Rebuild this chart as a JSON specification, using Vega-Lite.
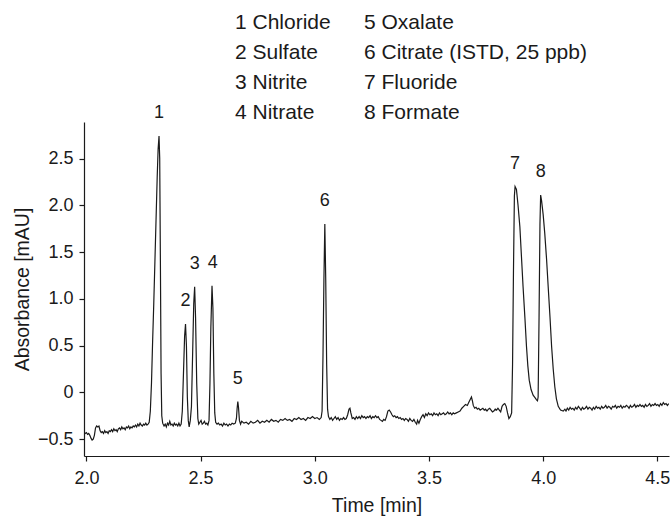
{
  "$schema": "https://vega.github.io/schema/vega-lite/v6.json",
  "width": 585,
  "height": 334,
  "autosize": {"type": "none"},
  "padding": {"left": 84, "top": 122, "right": 1, "bottom": 60},
  "background": "white",
  "config": {
    "view": {"stroke": null},
    "font": "Liberation Sans",
    "axis": {
      "domainColor": "#1a1a1a",
      "tickColor": "#1a1a1a",
      "tickSize": 5,
      "domainWidth": 1.2,
      "tickWidth": 1.2,
      "grid": false,
      "labelFont": "Liberation Sans",
      "labelFontSize": 18,
      "labelColor": "#1a1a1a",
      "titleFont": "Liberation Sans",
      "titleFontSize": 19.5,
      "titleFontWeight": "normal",
      "titleColor": "#1a1a1a"
    }
  },
  "datasets": {
    "trace": [
      {"t":1.990,"a":-0.43},{"t":1.995,"a":-0.44},{"t":2.000,"a":-0.43},{"t":2.005,"a":-0.45},{"t":2.010,"a":-0.44},{"t":2.015,"a":-0.46},{"t":2.020,"a":-0.49},{"t":2.025,"a":-0.51},{"t":2.030,"a":-0.50},{"t":2.035,"a":-0.46},{"t":2.040,"a":-0.38},{"t":2.045,"a":-0.36},{"t":2.050,"a":-0.37},{"t":2.055,"a":-0.36},{"t":2.060,"a":-0.41},{"t":2.065,"a":-0.43},{"t":2.070,"a":-0.42},{"t":2.075,"a":-0.44},{"t":2.080,"a":-0.41},{"t":2.085,"a":-0.43},{"t":2.090,"a":-0.42},{"t":2.095,"a":-0.44},{"t":2.100,"a":-0.41},{"t":2.105,"a":-0.42},{"t":2.110,"a":-0.40},{"t":2.115,"a":-0.42},{"t":2.120,"a":-0.39},{"t":2.125,"a":-0.41},{"t":2.130,"a":-0.40},{"t":2.135,"a":-0.42},{"t":2.140,"a":-0.39},{"t":2.145,"a":-0.38},{"t":2.150,"a":-0.40},{"t":2.155,"a":-0.37},{"t":2.160,"a":-0.39},{"t":2.165,"a":-0.38},{"t":2.170,"a":-0.40},{"t":2.175,"a":-0.37},{"t":2.180,"a":-0.38},{"t":2.185,"a":-0.36},{"t":2.190,"a":-0.39},{"t":2.195,"a":-0.37},{"t":2.200,"a":-0.38},{"t":2.205,"a":-0.36},{"t":2.210,"a":-0.37},{"t":2.215,"a":-0.35},{"t":2.220,"a":-0.37},{"t":2.225,"a":-0.34},{"t":2.230,"a":-0.36},{"t":2.235,"a":-0.33},{"t":2.240,"a":-0.35},{"t":2.245,"a":-0.36},{"t":2.250,"a":-0.34},{"t":2.255,"a":-0.35},{"t":2.260,"a":-0.33},{"t":2.265,"a":-0.35},{"t":2.270,"a":-0.34},
      {"t":2.275,"a":-0.32},{"t":2.280,"a":-0.20},{"t":2.285,"a":0.10},{"t":2.290,"a":0.55},{"t":2.295,"a":0.95},{"t":2.300,"a":1.40},{"t":2.305,"a":1.85},{"t":2.310,"a":2.30},{"t":2.314,"a":2.60},{"t":2.318,"a":2.74},{"t":2.321,"a":2.50},{"t":2.324,"a":1.40},{"t":2.327,"a":0.20},{"t":2.330,"a":-0.25},{"t":2.334,"a":-0.33},{"t":2.340,"a":-0.36},{"t":2.345,"a":-0.34},{"t":2.350,"a":-0.37},{"t":2.355,"a":-0.33},{"t":2.360,"a":-0.35},{"t":2.365,"a":-0.31},{"t":2.370,"a":-0.35},{"t":2.375,"a":-0.34},{"t":2.380,"a":-0.36},{"t":2.385,"a":-0.33},{"t":2.390,"a":-0.35},{"t":2.395,"a":-0.34},{"t":2.400,"a":-0.36},{"t":2.405,"a":-0.33},{"t":2.410,"a":-0.36},
      {"t":2.415,"a":-0.34},{"t":2.420,"a":-0.20},{"t":2.425,"a":0.20},{"t":2.430,"a":0.60},{"t":2.434,"a":0.73},{"t":2.438,"a":0.50},{"t":2.442,"a":-0.05},{"t":2.446,"a":-0.30},{"t":2.450,"a":-0.37},{"t":2.455,"a":-0.30},
      {"t":2.460,"a":-0.15},{"t":2.465,"a":0.40},{"t":2.470,"a":0.95},{"t":2.474,"a":1.13},{"t":2.478,"a":0.80},{"t":2.483,"a":0.10},{"t":2.488,"a":-0.28},{"t":2.492,"a":-0.34},{"t":2.497,"a":-0.32},{"t":2.502,"a":-0.30},{"t":2.507,"a":-0.34},{"t":2.512,"a":-0.33},{"t":2.517,"a":-0.31},{"t":2.522,"a":-0.34},{"t":2.527,"a":-0.33},{"t":2.532,"a":-0.35},
      {"t":2.537,"a":-0.30},{"t":2.541,"a":0.10},{"t":2.545,"a":0.70},{"t":2.550,"a":1.14},{"t":2.554,"a":0.90},{"t":2.558,"a":0.20},{"t":2.562,"a":-0.22},{"t":2.566,"a":-0.32},{"t":2.572,"a":-0.34},{"t":2.578,"a":-0.33},{"t":2.584,"a":-0.35},{"t":2.590,"a":-0.34},{"t":2.596,"a":-0.36},{"t":2.602,"a":-0.33},{"t":2.608,"a":-0.35},{"t":2.614,"a":-0.34},{"t":2.620,"a":-0.36},{"t":2.626,"a":-0.34},{"t":2.632,"a":-0.35},{"t":2.638,"a":-0.33},{"t":2.645,"a":-0.34},{"t":2.652,"a":-0.33},
      {"t":2.657,"a":-0.28},{"t":2.660,"a":-0.17},{"t":2.663,"a":-0.10},{"t":2.666,"a":-0.16},{"t":2.670,"a":-0.30},{"t":2.675,"a":-0.34},{"t":2.680,"a":-0.31},{"t":2.690,"a":-0.33},{"t":2.700,"a":-0.32},{"t":2.710,"a":-0.34},{"t":2.720,"a":-0.31},{"t":2.730,"a":-0.33},{"t":2.740,"a":-0.32},{"t":2.750,"a":-0.30},{"t":2.760,"a":-0.33},{"t":2.770,"a":-0.31},{"t":2.780,"a":-0.32},{"t":2.790,"a":-0.30},{"t":2.800,"a":-0.32},{"t":2.810,"a":-0.29},{"t":2.820,"a":-0.31},{"t":2.830,"a":-0.30},{"t":2.840,"a":-0.32},{"t":2.850,"a":-0.29},{"t":2.860,"a":-0.30},{"t":2.870,"a":-0.28},{"t":2.880,"a":-0.30},{"t":2.890,"a":-0.29},{"t":2.900,"a":-0.31},{"t":2.910,"a":-0.28},{"t":2.920,"a":-0.29},{"t":2.930,"a":-0.27},{"t":2.940,"a":-0.29},{"t":2.950,"a":-0.28},{"t":2.960,"a":-0.30},{"t":2.970,"a":-0.27},{"t":2.980,"a":-0.28},{"t":2.990,"a":-0.26},{"t":3.000,"a":-0.28},{"t":3.010,"a":-0.27},{"t":3.020,"a":-0.29},{"t":3.028,"a":-0.27},
      {"t":3.032,"a":-0.20},{"t":3.036,"a":0.40},{"t":3.040,"a":1.20},{"t":3.044,"a":1.80},{"t":3.048,"a":1.20},{"t":3.052,"a":0.30},{"t":3.056,"a":-0.18},{"t":3.060,"a":-0.26},{"t":3.066,"a":-0.29},{"t":3.072,"a":-0.27},{"t":3.078,"a":-0.30},{"t":3.084,"a":-0.28},{"t":3.090,"a":-0.26},{"t":3.096,"a":-0.29},{"t":3.102,"a":-0.27},{"t":3.108,"a":-0.30},{"t":3.114,"a":-0.28},{"t":3.120,"a":-0.29},{"t":3.126,"a":-0.27},{"t":3.132,"a":-0.29},{"t":3.138,"a":-0.28},{"t":3.144,"a":-0.24},{"t":3.150,"a":-0.18},{"t":3.154,"a":-0.17},{"t":3.158,"a":-0.22},{"t":3.164,"a":-0.28},{"t":3.170,"a":-0.27},{"t":3.176,"a":-0.29},{"t":3.182,"a":-0.26},{"t":3.188,"a":-0.28},{"t":3.194,"a":-0.26},{"t":3.200,"a":-0.28},{"t":3.206,"a":-0.25},{"t":3.212,"a":-0.27},{"t":3.218,"a":-0.26},{"t":3.224,"a":-0.28},{"t":3.230,"a":-0.26},{"t":3.236,"a":-0.27},{"t":3.242,"a":-0.25},{"t":3.248,"a":-0.28},{"t":3.254,"a":-0.26},{"t":3.260,"a":-0.27},{"t":3.266,"a":-0.25},{"t":3.272,"a":-0.27},{"t":3.278,"a":-0.26},{"t":3.284,"a":-0.29},{"t":3.290,"a":-0.30},{"t":3.296,"a":-0.31},{"t":3.302,"a":-0.29},{"t":3.308,"a":-0.30},{"t":3.314,"a":-0.26},{"t":3.320,"a":-0.20},{"t":3.326,"a":-0.19},{"t":3.332,"a":-0.21},{"t":3.338,"a":-0.24},{"t":3.344,"a":-0.26},{"t":3.350,"a":-0.25},{"t":3.356,"a":-0.27},{"t":3.362,"a":-0.26},{"t":3.368,"a":-0.28},{"t":3.374,"a":-0.27},{"t":3.380,"a":-0.29},{"t":3.386,"a":-0.28},{"t":3.392,"a":-0.30},{"t":3.398,"a":-0.28},{"t":3.404,"a":-0.29},{"t":3.410,"a":-0.31},{"t":3.416,"a":-0.28},{"t":3.422,"a":-0.30},{"t":3.428,"a":-0.31},{"t":3.434,"a":-0.29},{"t":3.440,"a":-0.32},{"t":3.446,"a":-0.34},{"t":3.450,"a":-0.30},{"t":3.456,"a":-0.33},{"t":3.462,"a":-0.29},{"t":3.468,"a":-0.26},{"t":3.474,"a":-0.24},{"t":3.480,"a":-0.27},{"t":3.486,"a":-0.23},{"t":3.492,"a":-0.25},{"t":3.498,"a":-0.22},{"t":3.504,"a":-0.24},{"t":3.510,"a":-0.23},{"t":3.516,"a":-0.25},{"t":3.522,"a":-0.22},{"t":3.528,"a":-0.24},{"t":3.534,"a":-0.23},{"t":3.540,"a":-0.25},{"t":3.546,"a":-0.22},{"t":3.552,"a":-0.24},{"t":3.558,"a":-0.23},{"t":3.564,"a":-0.22},{"t":3.570,"a":-0.24},{"t":3.576,"a":-0.23},{"t":3.582,"a":-0.21},{"t":3.588,"a":-0.23},{"t":3.594,"a":-0.22},{"t":3.600,"a":-0.24},{"t":3.606,"a":-0.22},{"t":3.612,"a":-0.23},
      {"t":3.620,"a":-0.22},{"t":3.628,"a":-0.21},{"t":3.636,"a":-0.20},{"t":3.644,"a":-0.17},{"t":3.652,"a":-0.15},{"t":3.660,"a":-0.13},{"t":3.668,"a":-0.14},{"t":3.674,"a":-0.11},{"t":3.680,"a":-0.08},{"t":3.686,"a":-0.05},{"t":3.690,"a":-0.09},{"t":3.694,"a":-0.14},{"t":3.700,"a":-0.17},{"t":3.706,"a":-0.16},{"t":3.712,"a":-0.18},{"t":3.718,"a":-0.17},{"t":3.724,"a":-0.19},{"t":3.730,"a":-0.18},{"t":3.736,"a":-0.17},{"t":3.742,"a":-0.19},{"t":3.748,"a":-0.18},{"t":3.754,"a":-0.20},{"t":3.760,"a":-0.18},{"t":3.766,"a":-0.17},{"t":3.772,"a":-0.19},{"t":3.778,"a":-0.21},{"t":3.784,"a":-0.20},{"t":3.790,"a":-0.18},{"t":3.796,"a":-0.19},{"t":3.802,"a":-0.17},{"t":3.808,"a":-0.19},{"t":3.814,"a":-0.21},{"t":3.820,"a":-0.15},{"t":3.826,"a":-0.13},{"t":3.832,"a":-0.12},{"t":3.838,"a":-0.15},{"t":3.844,"a":-0.22},{"t":3.850,"a":-0.28},{"t":3.856,"a":-0.26},{"t":3.862,"a":-0.22},
      {"t":3.866,"a":0.30},{"t":3.870,"a":1.30},{"t":3.874,"a":2.10},{"t":3.877,"a":2.20},{"t":3.883,"a":2.17},{"t":3.890,"a":2.00},{"t":3.898,"a":1.77},{"t":3.905,"a":1.45},{"t":3.912,"a":1.13},{"t":3.920,"a":0.80},{"t":3.927,"a":0.49},{"t":3.933,"a":0.28},{"t":3.939,"a":0.13},{"t":3.947,"a":0.03},{"t":3.956,"a":-0.03},{"t":3.965,"a":-0.06},{"t":3.971,"a":-0.08},{"t":3.975,"a":-0.09},
      {"t":3.978,"a":-0.05},{"t":3.982,"a":0.80},{"t":3.986,"a":1.80},{"t":3.989,"a":2.11},{"t":3.993,"a":2.05},{"t":4.000,"a":1.90},{"t":4.007,"a":1.70},{"t":4.015,"a":1.42},{"t":4.022,"a":1.13},{"t":4.030,"a":0.80},{"t":4.037,"a":0.49},{"t":4.044,"a":0.25},{"t":4.051,"a":0.06},{"t":4.058,"a":-0.07},{"t":4.066,"a":-0.15},{"t":4.076,"a":-0.19},{"t":4.088,"a":-0.20},
      {"t":4.095,"a":-0.18},{"t":4.100,"a":-0.20},{"t":4.106,"a":-0.17},{"t":4.112,"a":-0.19},{"t":4.118,"a":-0.16},{"t":4.124,"a":-0.18},{"t":4.130,"a":-0.17},{"t":4.136,"a":-0.19},{"t":4.142,"a":-0.16},{"t":4.148,"a":-0.18},{"t":4.154,"a":-0.15},{"t":4.160,"a":-0.17},{"t":4.166,"a":-0.19},{"t":4.172,"a":-0.16},{"t":4.178,"a":-0.18},{"t":4.184,"a":-0.17},{"t":4.190,"a":-0.15},{"t":4.196,"a":-0.18},{"t":4.202,"a":-0.16},{"t":4.208,"a":-0.17},{"t":4.214,"a":-0.19},{"t":4.220,"a":-0.16},{"t":4.226,"a":-0.18},{"t":4.232,"a":-0.15},{"t":4.238,"a":-0.17},{"t":4.244,"a":-0.16},{"t":4.250,"a":-0.18},{"t":4.256,"a":-0.15},{"t":4.262,"a":-0.17},{"t":4.268,"a":-0.16},{"t":4.274,"a":-0.14},{"t":4.280,"a":-0.17},{"t":4.286,"a":-0.15},{"t":4.292,"a":-0.16},{"t":4.298,"a":-0.18},{"t":4.304,"a":-0.15},{"t":4.310,"a":-0.16},{"t":4.316,"a":-0.14},{"t":4.322,"a":-0.17},{"t":4.328,"a":-0.15},{"t":4.334,"a":-0.16},{"t":4.340,"a":-0.14},{"t":4.346,"a":-0.17},{"t":4.352,"a":-0.15},{"t":4.358,"a":-0.16},{"t":4.364,"a":-0.14},{"t":4.370,"a":-0.15},{"t":4.376,"a":-0.17},{"t":4.382,"a":-0.14},{"t":4.388,"a":-0.16},{"t":4.394,"a":-0.15},{"t":4.400,"a":-0.13},{"t":4.406,"a":-0.16},{"t":4.412,"a":-0.14},{"t":4.418,"a":-0.15},{"t":4.424,"a":-0.13},{"t":4.430,"a":-0.15},{"t":4.436,"a":-0.14},{"t":4.442,"a":-0.16},{"t":4.448,"a":-0.13},{"t":4.454,"a":-0.15},{"t":4.460,"a":-0.14},{"t":4.466,"a":-0.12},{"t":4.472,"a":-0.15},{"t":4.478,"a":-0.13},{"t":4.484,"a":-0.14},{"t":4.490,"a":-0.12},{"t":4.496,"a":-0.14},{"t":4.502,"a":-0.13},{"t":4.508,"a":-0.15},{"t":4.514,"a":-0.12},{"t":4.520,"a":-0.14},{"t":4.526,"a":-0.11},{"t":4.532,"a":-0.13},{"t":4.538,"a":-0.12},{"t":4.544,"a":-0.14},{"t":4.550,"a":-0.12}
    ],
    "peaks": [
      {"num":"1","entry":"1 Chloride","t":2.318,"a":2.74},
      {"num":"2","entry":"2 Sulfate","t":2.434,"a":0.73},
      {"num":"3","entry":"3 Nitrite","t":2.474,"a":1.13},
      {"num":"4","entry":"4 Nitrate","t":2.553,"a":1.14},
      {"num":"5","entry":"5 Oxalate","t":2.663,"a":-0.10},
      {"num":"6","entry":"6 Citrate (ISTD, 25 ppb)","t":3.044,"a":1.80},
      {"num":"7","entry":"7 Fluoride","t":3.877,"a":2.20},
      {"num":"8","entry":"8 Formate","t":3.989,"a":2.11}
    ]
  },
  "layer": [
    {
      "data": {"name": "trace"},
      "mark": {"type": "line", "color": "#1a1a1a", "strokeWidth": 1.2, "clip": true},
      "encoding": {
        "x": {
          "field": "t", "type": "quantitative",
          "scale": {"domain": [1.9895, 4.551], "nice": false, "zero": false},
          "axis": {"title": "Time [min]", "values": [2, 2.5, 3, 3.5, 4, 4.5], "format": ".1f", "labelPadding": 8, "titlePadding": 9, "labelFlush": false}
        },
        "y": {
          "field": "a", "type": "quantitative",
          "scale": {"domain": [-0.681, 2.891], "nice": false, "zero": false},
          "axis": {"title": "Absorbance [mAU]", "values": [-0.5, 0, 0.5, 1, 1.5, 2, 2.5], "labelExpr": "datum.value == 0 ? '0' : format(datum.value, '.1f')", "labelPadding": 6, "titlePadding": 5, "labelFlush": false}
        }
      }
    },
    {
      "data": {"name": "peaks"},
      "mark": {"type": "text", "font": "Liberation Sans", "fontSize": 18, "dy": -23, "baseline": "middle", "align": "center"},
      "encoding": {
        "x": {"field": "t", "type": "quantitative"},
        "y": {"field": "a", "type": "quantitative"},
        "text": {"field": "num"},
        "color": {
          "field": "entry", "type": "nominal",
          "sort": ["1 Chloride", "2 Sulfate", "3 Nitrite", "4 Nitrate", "5 Oxalate", "6 Citrate (ISTD, 25 ppb)", "7 Fluoride", "8 Formate"],
          "scale": {"range": ["#1a1a1a"]},
          "legend": {
            "title": null,
            "orient": "none",
            "legendX": 130,
            "legendY": -110,
            "columns": 2,
            "columnPadding": 12,
            "rowPadding": 8,
            "padding": 0,
            "symbolOpacity": 0,
            "symbolSize": 0,
            "symbolStrokeWidth": 0,
            "labelOffset": 0,
            "labelFont": "Liberation Sans",
            "labelFontSize": 21,
            "labelColor": "#1a1a1a",
            "labelLimit": 0
          }
        }
      }
    }
  ]
}
